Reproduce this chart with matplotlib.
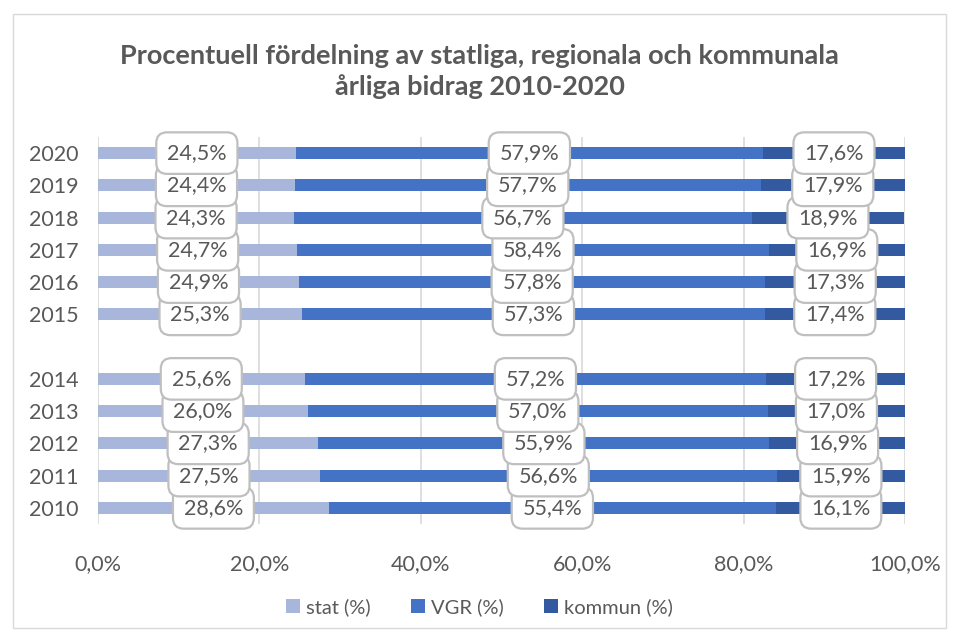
import matplotlib.pyplot as plt
from matplotlib.patches import Rectangle

plt.rcParams['font.family'] = ['Lato', 'DejaVu Sans']

# Data
years = ['2010', '2011', '2012', '2013', '2014',
         '2015', '2016', '2017', '2018', '2019', '2020']
stat = [28.6, 27.5, 27.3, 26.0, 25.6, 25.3, 24.9, 24.7, 24.3, 24.4, 24.5]
vgr = [55.4, 56.6, 55.9, 57.0, 57.2, 57.3, 57.8, 58.4, 56.7, 57.7, 57.9]
kommun = [16.1, 15.9, 16.9, 17.0, 17.2, 17.4, 17.3, 16.9, 18.9, 17.9, 17.6]
series_names = ['stat (%)', 'VGR (%)', 'kommun (%)']
colors = ['#A9B6DC', '#4472C4', '#335AA1']
title = 'Procentuell fördelning av statliga, regionala och kommunala\nårliga bidrag 2010-2020'

txt = '#595959'

fig = plt.figure(figsize=(9.59, 6.41), dpi=100)
ax = fig.add_axes([0.1022, 0.1825, 0.8415, 0.6038])

# empty slot between 2014 and 2015
pos = [i + (1 if int(y) >= 2015 else 0) for i, y in enumerate(years)]

left = [0.0] * len(years)
for vals, name, col in zip([stat, vgr, kommun], series_names, colors):
    ax.barh(pos, vals, left=left, height=0.37, color=col, label=name, zorder=2)
    for p, l, v in zip(pos, left, vals):
        ax.text(l + v / 2, p, f'{v:.1f}%'.replace('.', ','), ha='center', va='center',
                fontsize=15.5, color=txt, zorder=4,
                bbox=dict(boxstyle='round,pad=0.5,rounding_size=0.5', fc='white',
                          ec='#BFBFBF', lw=1.6))
    left = [a + b for a, b in zip(left, vals)]

ax.set_xlim(0, 100)
ax.set_ylim(-0.5, 11.5)
ax.set_yticks(pos)
ax.set_yticklabels(years)
ax.set_xticks(range(0, 101, 20))
ax.set_xticklabels([f'{x:.1f}%'.replace('.', ',') for x in range(0, 101, 20)])
ax.tick_params(axis='both', length=0, labelsize=15.5, labelcolor=txt)
ax.tick_params(axis='x', pad=22)
ax.tick_params(axis='y', pad=14)
ax.grid(axis='x', color='#D9D9D9', lw=1.2, zorder=0)
for s in ax.spines.values():
    s.set_visible(False)

fig.text(0.5, 0.889, title, ha='center', va='center', fontsize=19.5,
         fontweight='bold', color=txt, linespacing=1.3)

fig.legend(loc='center', bbox_to_anchor=(0.5, 0.053), ncol=3, frameon=False,
           fontsize=14.5, labelcolor=txt, handlelength=0.7, handleheight=0.7,
           handletextpad=0.3, columnspacing=2.0)

fig.patches.append(Rectangle((0.014, 0.02), 0.972, 0.958, transform=fig.transFigure,
                             fill=False, ec='#D9D9D9', lw=1))

fig.savefig('out.png', dpi=100)
